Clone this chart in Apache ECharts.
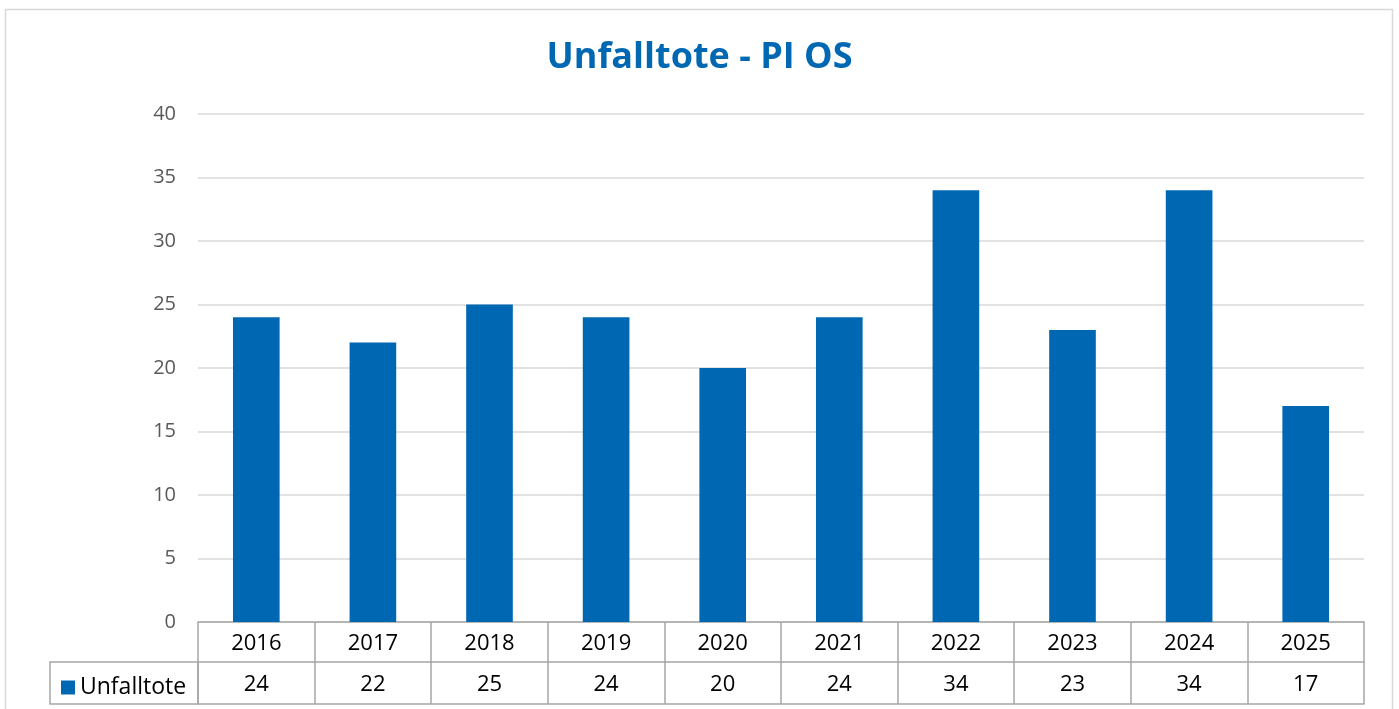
<!DOCTYPE html>
<html><head><meta charset="utf-8">
<script src="https://cdn.jsdelivr.net/npm/echarts@6/dist/echarts.min.js"></script>
<style>html,body{margin:0;padding:0;background:#fff}#c{width:1399px;height:709px}</style>
</head><body><div id="c"></div>
<script>
const categories = ['2016','2017','2018','2019','2020','2021','2022','2023','2024','2025'];
const values = [24,22,25,24,20,24,34,23,34,17];
const seriesName = 'Unfalltote';
const titleText = 'Unfalltote - PI OS';

const blue = '#0068B3';
const tableLine = '#A6A6A6';
const font = 'Open Sans';
const chart = echarts.init(document.getElementById('c'));
chart.setOption({
  animation: false,
  title: {text: titleText, left: 'center', top: 35,
    textStyle: {color: blue, fontSize: 36, fontWeight: 'bold', fontFamily: font}},
  legend: {left: 56, top: 671, itemWidth: 14, itemHeight: 14, itemGap: 7,
    icon: 'rect', textStyle: {fontSize: 23, color: '#000', fontFamily: font}, data: [seriesName]},
  grid: {left: 198, right: 35, top: 114, bottom: 87, containLabel: false},
  xAxis: [
    {type: 'category', data: categories, position: 'bottom',
     axisLine: {show: true, lineStyle: {color: tableLine, width: 1.5}},
     axisTick: {show: true, length: 82, lineStyle: {color: tableLine, width: 1.5}},
     axisLabel: {color: '#000', fontSize: 22, fontFamily: font, margin: 11}},
    {type: 'category', data: values.map(String), position: 'bottom', offset: 40,
     axisLine: {show: true, lineStyle: {color: tableLine, width: 1.5}},
     axisTick: {show: false},
     axisLabel: {color: '#000', fontSize: 22, fontFamily: font, margin: 12}},
    {type: 'category', data: categories, position: 'bottom', offset: 82,
     axisLine: {show: true, lineStyle: {color: tableLine, width: 1.5}},
     axisTick: {show: false}, axisLabel: {show: false}}
  ],
  yAxis: {type: 'value', min: 0, max: 40, interval: 5,
    axisLine: {show: false}, axisTick: {show: false},
    axisLabel: {color: '#595959', fontSize: 20, fontFamily: font, margin: 22},
    splitLine: {lineStyle: {color: '#D9D9D9', width: 1.5}}},
  series: [{name: seriesName, type: 'bar', data: values, xAxisIndex: 0,
    barCategoryGap: '60%', itemStyle: {color: blue}}],
  graphic: [
    {type: 'rect', shape: {x: 5.5, y: 9.5, width: 1387, height: 720}, style: {fill: 'none', stroke: '#D9D9D9', lineWidth: 1.5}, silent: true},
    {type: 'rect', shape: {x: 50, y: 662, width: 148, height: 42}, style: {fill: 'none', stroke: tableLine, lineWidth: 1.5}, silent: true}
  ]
});
</script></body></html>
